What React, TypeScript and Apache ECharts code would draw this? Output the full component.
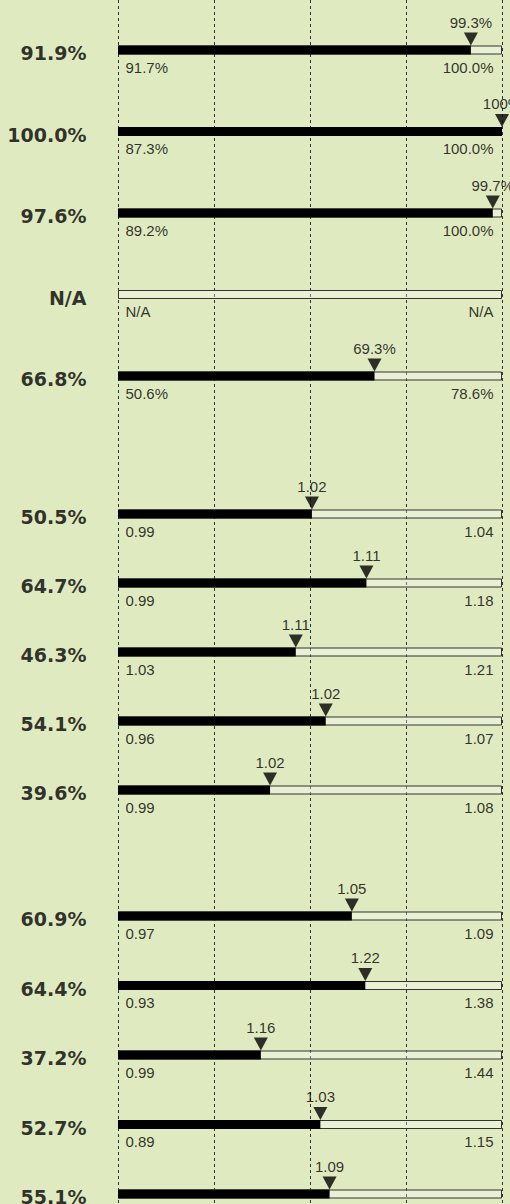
import React, { useEffect, useRef } from "react";
import * as echarts from "echarts";

// ---- data ----
const groupSizes = [5, 5, 5];
const percentiles: (number | null)[] = [91.9, 100.0, 97.6, null, 66.8, 50.5, 64.7, 46.3, 54.1, 39.6, 60.9, 64.4, 37.2, 52.7, 55.1];
const markerLabels = ["99.3%", "100%", "99.7%", "", "69.3%", "1.02", "1.11", "1.11", "1.02", "1.02", "1.05", "1.22", "1.16", "1.03", "1.09"];
const minLabels = ["91.7%", "87.3%", "89.2%", "N/A", "50.6%", "0.99", "0.99", "1.03", "0.96", "0.99", "0.97", "0.93", "0.99", "0.89", ""];
const maxLabels = ["100.0%", "100.0%", "100.0%", "N/A", "78.6%", "1.04", "1.18", "1.21", "1.07", "1.08", "1.09", "1.38", "1.44", "1.15", ""];
const scaleTicks = [0, 25, 50, 75, 100];

// ---- layout / style ----
const BG = "#e0eac1";
const LEFT = 118;
const RIGHT = 8;
// first and last row centre of each group (boundaryGap false)
const groupLayout = [
  { top: 50, height: 326 },
  { top: 514, height: 276 },
  { top: 916, height: 278 },
];
const SMALL_FONT = "'Liberation Sans', Arial, sans-serif";
const BOLD_FONT = "'DejaVu Sans', Verdana, sans-serif";

export default function App() {
  const ref = useRef<HTMLDivElement>(null);
  useEffect(() => {
    document.body.style.margin = "0";
    document.body.style.background = BG;
    if (!ref.current) return;
    const chart = echarts.init(ref.current, null, { renderer: "svg" });

    const leftLabels = percentiles.map((p) => (p == null ? "N/A" : p.toFixed(1) + "%"));

    const grids: any[] = [{ left: LEFT, right: RIGHT, top: 0, height: 1204 }];
    const xAxes: any[] = [
      {
        gridIndex: 0,
        type: "value",
        min: scaleTicks[0],
        max: scaleTicks[scaleTicks.length - 1],
        interval: scaleTicks[1] - scaleTicks[0],
        axisLine: { show: false },
        axisTick: { show: false },
        axisLabel: { show: false },
        splitLine: { show: true, lineStyle: { color: "#333", type: [3, 3], width: 1 } },
      },
    ];
    const yAxes: any[] = [{ gridIndex: 0, type: "value", show: false }];
    const series: any[] = [];

    let start = 0;
    groupSizes.forEach((size, g) => {
      const idx = Array.from({ length: size }, (_, k) => start + k);
      const gi = g + 1;
      grids.push({ left: LEFT, right: RIGHT, top: groupLayout[g].top, height: groupLayout[g].height });
      xAxes.push({ gridIndex: gi, type: "value", min: 0, max: 100, show: false, splitLine: { show: false } });
      yAxes.push({
        gridIndex: gi,
        type: "category",
        inverse: true,
        boundaryGap: false,
        data: idx.map((i) => leftLabels[i]),
        show: false,
      });
      const common = { xAxisIndex: gi, yAxisIndex: gi };
      series.push({
        ...common,
        type: "bar",
        name: "track" + g,
        data: idx.map(() => 100),
        barWidth: 9,
        barGap: "-100%",
        silent: true,
        itemStyle: { color: "rgba(255,255,255,0.3)", borderColor: "#333", borderWidth: 1 },
        z: 2,
      });
      series.push({
        ...common,
        type: "bar",
        name: "fill" + g,
        data: idx.map((i) => percentiles[i]),
        barWidth: 9,
        barGap: "-100%",
        silent: true,
        itemStyle: { color: "#000" },
        z: 3,
      });
      series.push({
        ...common,
        type: "scatter",
        name: "marker" + g,
        clip: false,
        data: idx
          .map((i, j) => ({ i, j }))
          .filter(({ i }) => percentiles[i] != null)
          .map(({ i, j }) => ({ value: [percentiles[i], j], label: { formatter: markerLabels[i] } })),
        symbol: "path://M0,0 L2,0 L1,2 Z",
        symbolSize: [14, 13],
        symbolOffset: [0, -11],
        itemStyle: { color: "#000" },
        label: { show: true, position: "top", distance: 3, fontSize: 15, fontFamily: SMALL_FONT, color: "#000" },
        z: 4,
      });
      series.push({
        ...common,
        type: "scatter",
        name: "left" + g,
        clip: false,
        data: idx.map((i, j) => ({ value: [0, j], label: { formatter: leftLabels[i] } })),
        symbolSize: 1,
        itemStyle: { color: "rgba(0,0,0,0)" },
        label: { show: true, position: "left", distance: 0, offset: [-31, 3], fontSize: 19, fontWeight: "bold", fontFamily: BOLD_FONT, color: "#000" },
        z: 4,
      });
      series.push({
        ...common,
        type: "scatter",
        name: "min" + g,
        clip: false,
        data: idx.map((i, j) => ({ value: [0, j], label: { formatter: minLabels[i] } })),
        symbolSize: 1,
        itemStyle: { color: "rgba(0,0,0,0)" },
        label: { show: true, position: "right", distance: 0, offset: [7, 17], fontSize: 15, fontFamily: SMALL_FONT, color: "#000" },
        z: 4,
      });
      series.push({
        ...common,
        type: "scatter",
        name: "max" + g,
        clip: false,
        data: idx.map((i, j) => ({ value: [100, j], label: { formatter: maxLabels[i] } })),
        symbolSize: 1,
        itemStyle: { color: "rgba(0,0,0,0)" },
        label: { show: true, position: "left", distance: 0, offset: [-8, 17], fontSize: 15, fontFamily: SMALL_FONT, color: "#000" },
        z: 4,
      });
      start += size;
    });

    chart.setOption({
      animation: false,
      backgroundColor: BG,
      grid: grids,
      xAxis: xAxes,
      yAxis: yAxes,
      series,
    });
    return () => chart.dispose();
  }, []);
  return <div ref={ref} style={{ width: 510, height: 1204, position: "absolute", left: 0, top: 0 }} />;
}
